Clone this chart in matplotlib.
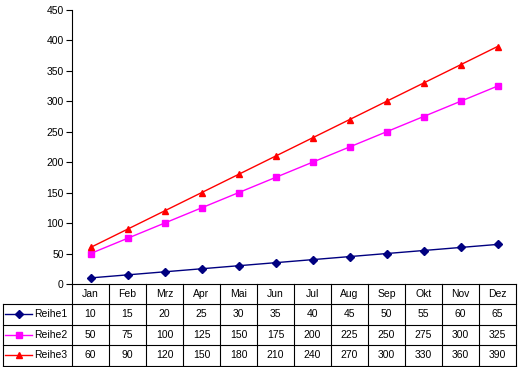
import matplotlib
matplotlib.use("Agg")
import matplotlib.pyplot as plt
from matplotlib.lines import Line2D

plt.rcParams['font.family'] = ['Liberation Sans', 'DejaVu Sans']

months = ['Jan', 'Feb', 'Mrz', 'Apr', 'Mai', 'Jun', 'Jul', 'Aug', 'Sep', 'Okt', 'Nov', 'Dez']
names = ['Reihe1', 'Reihe2', 'Reihe3']
reihe1 = [10, 15, 20, 25, 30, 35, 40, 45, 50, 55, 60, 65]
reihe2 = [50, 75, 100, 125, 150, 175, 200, 225, 250, 275, 300, 325]
reihe3 = [60, 90, 120, 150, 180, 210, 240, 270, 300, 330, 360, 390]
series = [reihe1, reihe2, reihe3]
colors = ['#000080', '#FF00FF', '#FF0000']
markers = ['D', 's', '^']
msizes = [3.8, 4.5, 5]

W, H = 521, 367
fig = plt.figure(figsize=(W / 100, H / 100), dpi=100)

def fx(x):
    return x / W

def fy(y):
    return 1 - y / H

# plot area in pixels
left, right, top, bottom = 72, 516, 10, 284
ax = fig.add_axes([fx(left), fy(bottom), fx(right - left), fy(top) - fy(bottom)])

x = list(range(len(months)))
for s, c, m, ms in zip(series, colors, markers, msizes):
    ax.plot(x, s, color=c, marker=m, markersize=ms, linewidth=1, clip_on=False)

ax.set_xlim(-0.5, len(months) - 0.5)
ax.set_ylim(0, 450)
ax.set_yticks(range(0, 451, 50))
ax.set_xticks([])
ax.tick_params(axis='y', length=4, width=0.8, labelsize=7.5, pad=2)
for sp in ['top', 'right']:
    ax.spines[sp].set_visible(False)
ax.spines['left'].set_linewidth(0.8)
ax.spines['bottom'].set_linewidth(0.8)

# data table
colw = (right - left) / len(months)
rows = [284, 304, 324.5, 345, 365.5]
tleft = 3
lw = 0.8

def hline(y, x0, x1):
    fig.add_artist(Line2D([fx(x0), fx(x1)], [fy(y), fy(y)], color='black', linewidth=lw))

def vline(x0, y0, y1):
    fig.add_artist(Line2D([fx(x0), fx(x0)], [fy(y0), fy(y1)], color='black', linewidth=lw))

for r in rows[1:]:
    hline(r, tleft, right)
vline(tleft, rows[1], rows[-1])
for i in range(len(months) + 1):
    vline(left + i * colw, rows[0], rows[-1])

fs = 7.5
for i, mname in enumerate(months):
    cx = left + (i + 0.5) * colw
    fig.text(fx(cx), fy((rows[0] + rows[1]) / 2), mname, ha='center', va='center', fontsize=fs)
    for j, s in enumerate(series):
        cy = (rows[j + 1] + rows[j + 2]) / 2
        fig.text(fx(cx), fy(cy), str(s[i]), ha='center', va='center', fontsize=fs)

for j, (nm, c, m, ms) in enumerate(zip(names, colors, markers, msizes)):
    cy = (rows[j + 1] + rows[j + 2]) / 2
    fig.add_artist(Line2D([fx(5), fx(32)], [fy(cy), fy(cy)], color=c, linewidth=1))
    fig.add_artist(Line2D([fx(18.5)], [fy(cy)], color=c, marker=m, markersize=ms, linestyle='none'))
    fig.text(fx(34), fy(cy), nm, ha='left', va='center', fontsize=fs)

fig.savefig('out.png', dpi=100)
